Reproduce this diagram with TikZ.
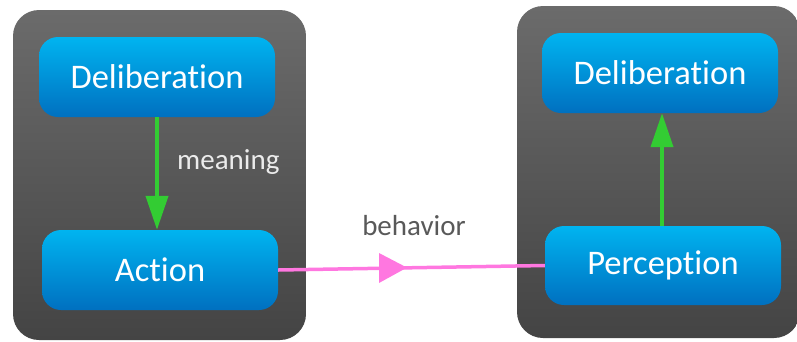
\documentclass[tikz,border=0pt]{standalone}
\usepackage{fontspec}
\setmainfont{Carlito}[Ligatures={NoCommon}]
\usetikzlibrary{arrows.meta}
\definecolor{paneltop}{HTML}{6B6B6B}
\definecolor{panelbot}{HTML}{444444}
\definecolor{boxtop}{HTML}{00B4F0}
\definecolor{boxbot}{HTML}{0070C0}
\definecolor{flowgreen}{HTML}{33CC33}
\definecolor{flowpink}{HTML}{FF77E0}
\definecolor{labelgray}{HTML}{595959}
\tikzset{
  panel/.style={rounded corners=26pt, top color=paneltop, bottom color=panelbot, draw=none},
  stage/.style={rounded corners=19pt, top color=boxtop, bottom color=boxbot, draw=none,
    text=white, font=\fontsize{34.5}{40}\selectfont, inner sep=0pt},
  greenflow/.style={draw=flowgreen, line width=4pt,
    -{Triangle[length=34pt,width=22pt]}},
  pinkflow/.style={draw=flowpink, line width=3.5pt},
  sidelabel/.style={font=\fontsize{29}{34}\selectfont}
}
\begin{document}
\begin{tikzpicture}[x=1pt,y=-1pt]
\useasboundingbox (0,0) rectangle (797,341);
\begin{scope}
\clip (0,0) rectangle (797,341);
% agent panels
\path[panel] (13,10) rectangle (306,340);
\path[panel] (517,6) rectangle (800,338);
\end{scope}
% left agent
\node[stage, minimum width=236pt, minimum height=80pt] (delibL) at (157,77) {Deliberation};
\node[stage, minimum width=236pt, minimum height=80pt] (action) at (160,270) {Action};
% right agent
\node[stage, minimum width=236pt, minimum height=80pt] (delibR) at (660,73) {Deliberation};
\node[stage, minimum width=236pt, minimum height=79pt] (percep) at (663,265.5) {Perception};
% internal flows
\draw[greenflow] (delibL.south -| 157,0) -- (action.north -| 157,0);
\draw[greenflow] (percep.north -| 662,0) -- (delibR.south -| 662,0);
\node[sidelabel, text=white!92!black, anchor=west, inner sep=0pt] (meaning) at (177,162) {meaning};
% exchange between agents
\coordinate (mid) at (407,267.6);
\draw[pinkflow] (action.east) -- (percep.west);
\fill[flowpink] (mid) -- (379,253) -- (379,283) -- cycle;
\node[sidelabel, text=labelgray] (behavior) at (414,226) {behavior};
\end{tikzpicture}
\end{document}
